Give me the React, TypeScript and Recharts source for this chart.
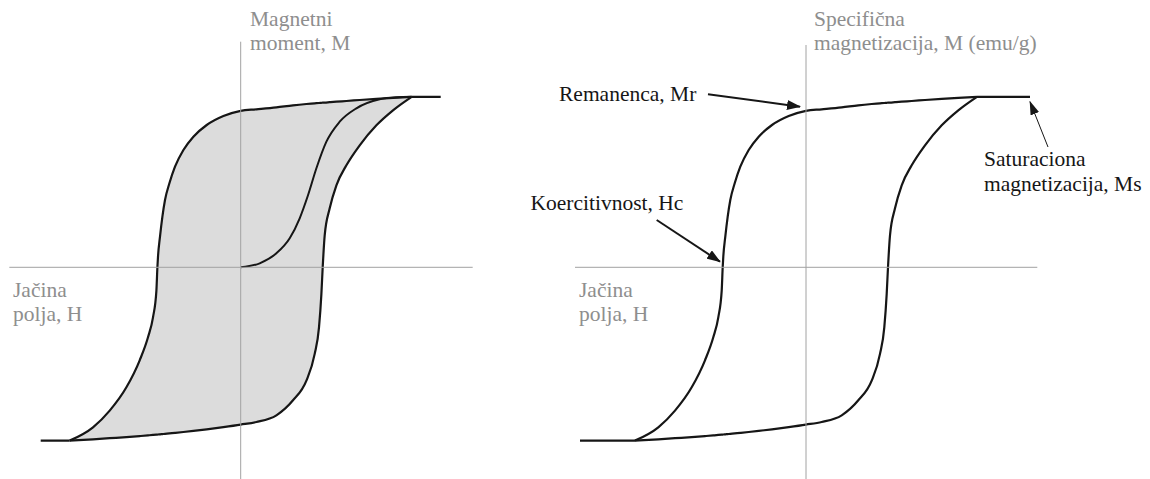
import React from 'react';
import { ComposedChart, Area, Line, XAxis, YAxis, ReferenceLine } from 'recharts';

// field strength H sampled along the loop (same grid for both branches)
const fieldH = [
  -171, -147.7, -131, -114.3, -101, -92.7, -87.7, -84.3, -83.3, -82.7, -80.7, -78.3, -75.7,
  -71.3, -65.7, -57.3, -47.3, -34, -17.3, 0,
  15.7, 35.7, 52.3, 65.7, 74, 78.3, 80.7, 82, 84, 89, 95.7, 105.7, 119, 135.7, 152.3, 171,
];
// descending branch (coming back from +Ms)
const upperM = [
  -173.3, -160, -143.3, -120, -93, -70, -50, -23.3, 0, 10.6, 30.6, 50.6, 67.3,
  84, 100.6, 117.3, 130.6, 142.3, 151.3, 156.5,
  158, 160, 162, 163.3, 164, 164.3, 164.5, 164.6, 164.7, 165.1, 165.6, 166.3, 167.3, 168.5, 169.5, 170.5,
];
// ascending branch (coming up from -Ms)
const lowerM = [
  -173.3, -172, -170.9, -169.8, -168.8, -168.1, -167.65, -167.35, -167.25, -167.2, -167, -166.78, -166.53,
  -166.1, -165.55, -164.7, -163.6, -162, -159.8, -157.3,
  -154.7, -148, -133, -113.3, -86.6, -60, -26.6, 0, 32, 59, 82, 102, 122, 142, 157, 170.5,
];

// initial magnetization curve
const virginH = [0, 19, 35.7, 49, 59, 67.3, 75.7, 85.7, 99, 115.7, 139, 155.7, 171];
const virginM = [0, 4, 14, 29, 49, 72, 99, 125.6, 145.6, 159, 168, 170, 170.5];

const satM = 170.5;
const satNegM = -173.3;
const leftTopPlateauH = [171, 200];
const leftBottomPlateauH = [-200, -171];
const rightTopPlateauH = [171, 224];
const rightBottomPlateauH = [-226, -171];

// annotation arrows on the right chart, [from, to] in H/M units
const remanenceArrow = [{ x: -98, y: 173 }, { x: -6, y: 160.6 }];
const coercivityArrow = [{ x: -149.3, y: 47.3 }, { x: -86, y: 5.6 }];
const saturationArrow = [{ x: 242, y: 120.3 }, { x: 224, y: 165.6 }];

const loopRows = fieldH.map((h, i) => ({ h, band: [lowerM[i], upperM[i]] }));
const virginRows = virginH.map((h, i) => ({ h, m: virginM[i] }));
const plateau = (hs: number[], m: number) => hs.map((h) => ({ h, m }));

const INK = '#161616';
const AXIS = '#a2a2a2';
const LABEL = '#8e8e8e';
const FONT = "'Liberation Serif', 'Times New Roman', serif";

const arrowShape = (marker: string, width: number) => (p: any) => (
  <line x1={p.x1} y1={p.y1} x2={p.x2} y2={p.y2} stroke={INK} strokeWidth={width} markerEnd={`url(#${marker})`} />
);

function Loop({ filled, topPlateau, bottomPlateau, children }: any) {
  return (
    <>
      <Area
        dataKey="band"
        type="monotone"
        stroke={INK}
        strokeWidth={2.2}
        fill={filled ? '#dcdcdc' : 'none'}
        fillOpacity={1}
        dot={false}
        activeDot={false}
        isAnimationActive={false}
      />
      <Line data={plateau(topPlateau, satM)} dataKey="m" type="linear" stroke={INK} strokeWidth={2.2} dot={false} activeDot={false} isAnimationActive={false} />
      <Line data={plateau(bottomPlateau, satNegM)} dataKey="m" type="linear" stroke={INK} strokeWidth={2.2} dot={false} activeDot={false} isAnimationActive={false} />
      {children}
    </>
  );
}

export default function App() {
  const text = { fontFamily: FONT, fontSize: 21.5 };
  return (
    <div style={{ position: 'absolute', left: 0, top: 0, width: 1150, height: 479, background: '#fff' }}>
      <svg width={0} height={0} style={{ position: 'absolute' }}>
        <defs>
          <marker id="headBig" markerUnits="userSpaceOnUse" markerWidth={14} markerHeight={10} refX={13} refY={5} orient="auto">
            <path d="M0,0 L14,5 L0,10 z" fill={INK} />
          </marker>
          <marker id="headSmall" markerUnits="userSpaceOnUse" markerWidth={14} markerHeight={10} refX={13} refY={5} orient="auto">
            <path d="M0,0.5 L14,5 L0,9.5 z" fill={INK} />
          </marker>
        </defs>
      </svg>

      <div style={{ position: 'absolute', left: 0, top: 0 }}>
        <ComposedChart width={480} height={479} data={loopRows} margin={{ top: 41.7, right: 7.3, bottom: 0, left: 9.3 }}>
          <XAxis type="number" dataKey="h" domain={[-231.4, 232]} allowDataOverflow hide />
          <YAxis type="number" domain={[-211.7, 225.6]} allowDataOverflow hide />
          <Loop filled topPlateau={leftTopPlateauH} bottomPlateau={leftBottomPlateauH}>
            <Line data={virginRows} dataKey="m" type="monotone" stroke={INK} strokeWidth={2} dot={false} activeDot={false} isAnimationActive={false} />
          </Loop>
          <ReferenceLine x={0} stroke={AXIS} strokeWidth={1} />
          <ReferenceLine y={0} stroke={AXIS} strokeWidth={1} />
        </ComposedChart>
      </div>

      <div style={{ position: 'absolute', left: 540, top: 0 }}>
        <ComposedChart width={610} height={479} data={loopRows} margin={{ top: 45, right: 112.7, bottom: 0, left: 35 }}>
          <XAxis type="number" dataKey="h" domain={[-231, 231.3]} allowDataOverflow hide />
          <YAxis type="number" domain={[-211.7, 222.3]} allowDataOverflow hide />
          <ReferenceLine x={0} stroke={AXIS} strokeWidth={1} />
          <ReferenceLine y={0} stroke={AXIS} strokeWidth={1} />
          <Loop filled={false} topPlateau={rightTopPlateauH} bottomPlateau={rightBottomPlateauH} />
          <ReferenceLine segment={remanenceArrow} ifOverflow="visible" shape={arrowShape('headBig', 2)} />
          <ReferenceLine segment={coercivityArrow} ifOverflow="visible" shape={arrowShape('headBig', 2)} />
          <ReferenceLine segment={saturationArrow} ifOverflow="visible" shape={arrowShape('headSmall', 1)} />
        </ComposedChart>
      </div>

      <svg width={1150} height={479} style={{ position: 'absolute', left: 0, top: 0, pointerEvents: 'none' }}>
        <g style={text} fill={LABEL}>
          <text x={250} y={26}>Magnetni</text>
          <text x={250} y={50}>moment, M</text>
          <text x={13} y={297}>Jačina</text>
          <text x={13} y={320.5}>polja, H</text>
          <text x={814} y={26}>Specifična</text>
          <text x={814} y={50}>magnetizacija, M (emu/g)</text>
          <text x={579} y={297}>Jačina</text>
          <text x={579} y={321}>polja, H</text>
        </g>
        <g style={text} fill={INK}>
          <text x={559} y={100.5}>Remanenca, Mr</text>
          <text x={530.5} y={210}>Koercitivnost, Hc</text>
          <text x={984} y={166}>Saturaciona</text>
          <text x={984} y={190.7}>magnetizacija, Ms</text>
        </g>
      </svg>
    </div>
  );
}
